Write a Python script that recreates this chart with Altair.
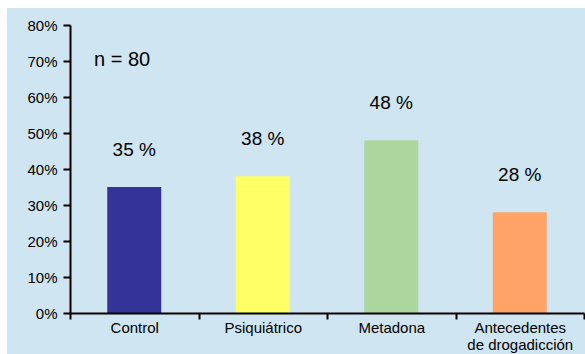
import altair as alt
import pandas as pd

categories = ["Control", "Psiquiátrico", "Metadona", "Antecedentes de drogadicción"]
values = [0.35, 0.38, 0.48, 0.28]
labels = ["35 %", "38 %", "48 %", "28 %"]
colors = ["#333399", "#ffff66", "#acd8a0", "#ffa366"]
y_ticks = [0, 0.1, 0.2, 0.3, 0.4, 0.5, 0.6, 0.7, 0.8]
note = "n = 80"

df = pd.DataFrame({"cat": categories, "val": values, "lab": labels})

FONT = "Liberation Sans"
BG = "#cfe5f1"

x_enc = alt.X(
    "cat:N",
    sort=categories,
    scale=alt.Scale(paddingInner=0, paddingOuter=0),
    axis=alt.Axis(
        title=None,
        labelAngle=0,
        labelFont=FONT,
        labelFontSize=15,
        labelColor="black",
        labelPadding=1,
        labelLineHeight=17,
        labelOverlap=False,
        labelExpr="datum.value == 'Antecedentes de drogadicción' ? ['Antecedentes', 'de drogadicción'] : datum.label",
        tickBand="extent",
        tickSize=6,
        tickWidth=2,
        tickColor="black",
        domainColor="black",
        domainWidth=2,
        grid=False,
        zindex=2,
    ),
)

y_enc = alt.Y(
    "val:Q",
    scale=alt.Scale(domain=[0, 0.8], nice=False),
    axis=alt.Axis(
        title=None,
        values=y_ticks,
        format=".0%",
        labelFont=FONT,
        labelFontSize=15,
        labelColor="black",
        labelPadding=6,
        labelOverlap=False,
        labelSeparation=0,
        tickSize=7,
        tickWidth=2,
        tickColor="black",
        domainColor="black",
        domainWidth=2,
        grid=False,
        zindex=2,
    ),
)

bg = alt.Chart(pd.DataFrame({"a": [0]})).mark_rect(color=BG, clip=False).encode(
    x=alt.value(-63), x2=alt.value(520), y=alt.value(-17), y2=alt.value(341)
)

bars = alt.Chart(df).mark_bar(size=54).encode(
    x=x_enc,
    y=y_enc,
    color=alt.Color("cat:N", sort=categories,
                    scale=alt.Scale(domain=categories, range=colors), legend=None),
)

text = alt.Chart(df).mark_text(
    font=FONT, fontSize=19, color="black", dy=-37, baseline="middle"
).encode(x=x_enc, y=y_enc, text="lab:N")

ntext = alt.Chart(pd.DataFrame({"t": [note]})).mark_text(
    font=FONT, fontSize=20, color="black", align="left", baseline="middle"
).encode(x=alt.value(24), y=alt.value(35), text="t:N")

chart = alt.layer(bg, bars, text, ntext).properties(
    width=514,
    height=288,
    autosize=alt.AutoSizeParams(type="none"),
    padding={"left": 70, "top": 25, "right": 1, "bottom": 41},
    background="white",
).configure_view(stroke=None, fill=None)

chart.save("out.html", embed_options={"renderer": "svg", "actions": False})
